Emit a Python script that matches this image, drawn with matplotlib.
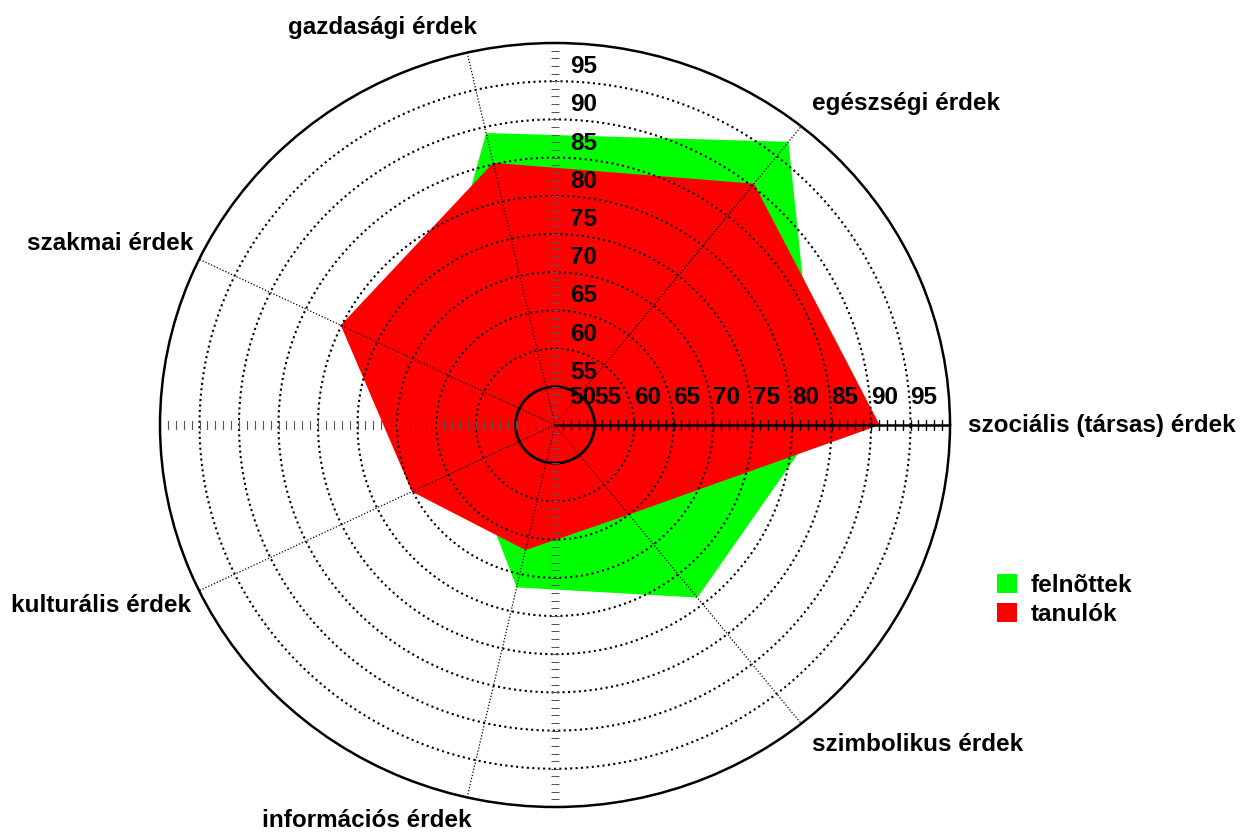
import numpy as np
import matplotlib
matplotlib.use("Agg")
import matplotlib.pyplot as plt
from matplotlib.transforms import offset_copy
from matplotlib.patches import Patch

plt.rcParams['font.family'] = ['Liberation Sans', 'DejaVu Sans']
plt.rcParams['font.weight'] = 'bold'

# ---- data ----
categories = ["szociális (társas) érdek", "egészségi érdek", "gazdasági érdek",
              "szakmai érdek", "kulturális érdek", "információs érdek",
              "szimbolikus érdek"]
felnottek = [83.3, 97.4, 89.2, 68.6, 62.0, 71.8, 78.9]
tanulok = [91.1, 90.4, 85.2, 80.1, 70.1, 66.8, 65.0]
series_names = ["felnõttek", "tanulók"]
r_ticks_h = [50, 55, 60, 65, 70, 75, 80, 85, 90, 95]
r_ticks_v = [55, 60, 65, 70, 75, 80, 85, 90, 95]
rings = [55, 60, 65, 70, 75, 80, 85, 90, 95]
r_min, r_max = 50, 100

FS = 17.5
W, H = 1244, 832
fig = plt.figure(figsize=(W / 100, H / 100), dpi=100)
cx, cy, rx, ry = 555, 425, 395, 382
ax = fig.add_axes([(cx - rx) / W, (H - cy - ry) / H, 2 * rx / W, 2 * ry / H],
                  projection='polar')
ax.set_aspect('auto')
ax.set_ylim(r_min, r_max)
ax.grid(False)
ax.set_yticks([])
ax.set_xticks(np.deg2rad(np.arange(0, 360, 3)))
ax.set_xticklabels([])
ax.tick_params(axis='x', direction='in', length=5, width=1.2, color='k')
ax.spines['polar'].set_linewidth(1.8)
ax.spines['polar'].set_color('k')

n = len(categories)
angles = np.arange(n) * 2 * np.pi / n

# filled polygons
ax.fill(np.append(angles, angles[0]), np.append(felnottek, felnottek[0]),
        color='#00ff00', lw=0, zorder=1, label=series_names[0])
ax.fill(np.append(angles, angles[0]), np.append(tanulok, tanulok[0]),
        color='#ff0000', lw=0, zorder=2, label=series_names[1])

# rings
th = np.linspace(0, 2 * np.pi, 721)
for r in rings:
    if r == rings[0]:
        ax.plot(th, np.full_like(th, r), color='k', lw=2.0, zorder=3)
    else:
        ax.plot(th, np.full_like(th, r), color='k', lw=1.5,
                ls=(0, (1, 1.6)), zorder=3)

# spokes
for a in angles:
    ax.plot([a, a], [r_min, r_max], color='k', lw=0.9, ls=(0, (1, 1.5)), zorder=3)

# value axes with ticks
unit = np.arange(51, 100)
ax.plot([0, 0], [r_min, r_max], color='k', lw=1.8, zorder=4)
ax.plot(np.zeros_like(unit, dtype=float), unit, ls='none', marker='|',
        ms=7, mew=1.0, color='k', zorder=4)
ax.plot(np.full(len(unit), np.pi), unit, ls='none', marker='|',
        ms=6, mew=0.8, color='#555555', zorder=4)
ax.plot(np.full(len(unit), np.pi / 2), unit, ls='none', marker='_',
        ms=5.5, mew=0.7, color='#555555', zorder=4)
ax.plot(np.full(len(unit), 3 * np.pi / 2), unit, ls='none', marker='_',
        ms=5.5, mew=0.7, color='#555555', zorder=4)

# radial tick labels
for v in r_ticks_h:
    dx = 14 if v == r_min else 0
    tr = offset_copy(ax.transData, fig=fig, x=dx, y=16, units='dots')
    ax.text(0, v, str(v), transform=tr, ha='left', va='bottom',
            fontsize=FS, fontweight='bold', zorder=6)
for v in r_ticks_v:
    tr = offset_copy(ax.transData, fig=fig, x=15, y=3, units='dots')
    ax.text(np.pi / 2, v, str(v), transform=tr, ha='left', va='bottom',
            fontsize=FS, fontweight='bold', zorder=6)

# category labels
lab_off = [(18, 0, 'left'), (11, 23, 'left'), (10, 25, 'right'),
           (-6, 16, 'right'), (-8, -15, 'right'), (5, -23, 'right'),
           (11, -21, 'left')]
for a, name, (dx, dy, ha) in zip(angles, categories, lab_off):
    tr = offset_copy(ax.transData, fig=fig, x=dx, y=dy, units='dots')
    ax.text(a, r_max, name, transform=tr, ha=ha, va='center',
            fontsize=FS, fontweight='bold', clip_on=False, zorder=6)

handles = [Patch(color='#00ff00', lw=0), Patch(color='#ff0000', lw=0)]
fig.legend(handles, series_names, loc='upper left',
           bbox_to_anchor=(997 / W, 1 - 574 / H), frameon=False,
           handlelength=0.82, handleheight=0.8,
           handletextpad=0.55, labelspacing=0.25, borderpad=0,
           borderaxespad=0, prop={'weight': 'bold', 'size': FS})

fig.savefig("out.png", dpi=100)
